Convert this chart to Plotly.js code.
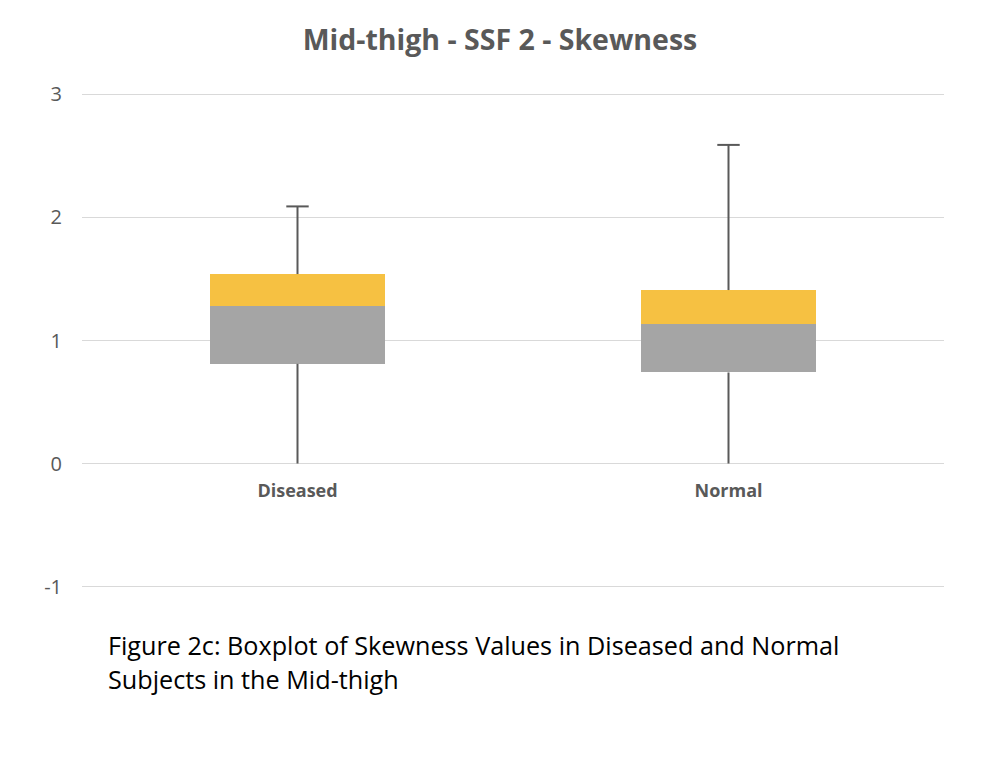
<!DOCTYPE html>
<html>
<head>
<meta charset="utf-8">
<script src="https://cdn.plot.ly/plotly-3.0.1.min.js"></script>
<style>html,body{margin:0;padding:0;background:#fff;}#chart{width:992px;height:778px;}</style>
</head>
<body>
<div id="chart"></div>
<script>
const categories = ['Diseased', 'Normal'];
const whiskerMin = [0, 0];
const q1 = [0.81, 0.74];
const median = [1.28, 1.135];
const q3 = [1.54, 1.41];
const whiskerMax = [2.09, 2.59];
const yTicks = [-1, 0, 1, 2, 3];
const yTickText = ['-1', '0', '1', '2', '3'];
const captionLines = ['Figure 2c: Boxplot of Skewness Values in Diseased and Normal', 'Subjects in the Mid-thigh'];

const FONT = '"Open Sans", Lato, sans-serif';
const lowerBox = median.map((m, i) => m - q1[i]);
const upperBox = q3.map((v, i) => v - median[i]);

const wx = [], wy = [];
categories.forEach((c, i) => {
  wx.push(c, c, null, c, c, null);
  wy.push(whiskerMin[i], q1[i], null, q3[i], whiskerMax[i], null);
});

const traces = [
  { type: 'bar', x: categories, y: q1, marker: { color: 'rgba(0,0,0,0)' }, hoverinfo: 'skip' },
  { type: 'bar', x: categories, y: lowerBox, marker: { color: '#A5A5A5' } },
  { type: 'bar', x: categories, y: upperBox, marker: { color: '#F6C142' } },
  { type: 'scatter', mode: 'lines', x: wx, y: wy, line: { color: '#595959', width: 2 }, connectgaps: false },
  { type: 'scatter', mode: 'markers', x: categories, y: whiskerMax,
    marker: { symbol: 'line-ew', size: 16, line: { color: '#595959', width: 2 } } }
];

// plot area: top 92px, bottom 589px (height 497px) in a 778px page
const capY = [(589 - 645) / 497, (589 - 679) / 497];
const layout = {
  width: 992, height: 778,
  margin: { l: 82, r: 48, t: 92, b: 189 },
  paper_bgcolor: '#fff', plot_bgcolor: '#fff',
  showlegend: false,
  barmode: 'stack', bargap: 0.596,
  title: { text: '<b>Mid-thigh - SSF 2 - Skewness</b>', font: { family: FONT, size: 28.5, color: '#595959' },
           xref: 'container', x: 0.504, xanchor: 'center', yref: 'container', y: 0.948, yanchor: 'middle' },
  xaxis: { type: 'category', anchor: 'free', position: 1.02 / 4.04, showgrid: false, zeroline: false, showline: false,
           ticks: '', ticklabelstandoff: 14,
           tickfont: { family: FONT, size: 18, color: '#595959', weight: 'bold' }, fixedrange: true },
  yaxis: { range: [-1.02, 3.02], tickvals: yTicks, ticktext: yTickText, showgrid: true, gridcolor: '#D9D9D9', gridwidth: 1.5,
           zeroline: false, showline: false, ticks: '', ticklabelstandoff: 19,
           tickfont: { family: FONT, size: 20, color: '#595959' }, fixedrange: true },
  annotations: captionLines.map((t, i) => ({
    xref: 'paper', yref: 'paper', x: 0.028, y: capY[i], xanchor: 'left', yanchor: 'middle', align: 'left',
    showarrow: false, text: t, font: { family: FONT, size: 25.2, color: '#000' }
  }))
};

Plotly.newPlot('chart', traces, layout, { staticPlot: true, displayModeBar: false });
</script>
</body>
</html>
